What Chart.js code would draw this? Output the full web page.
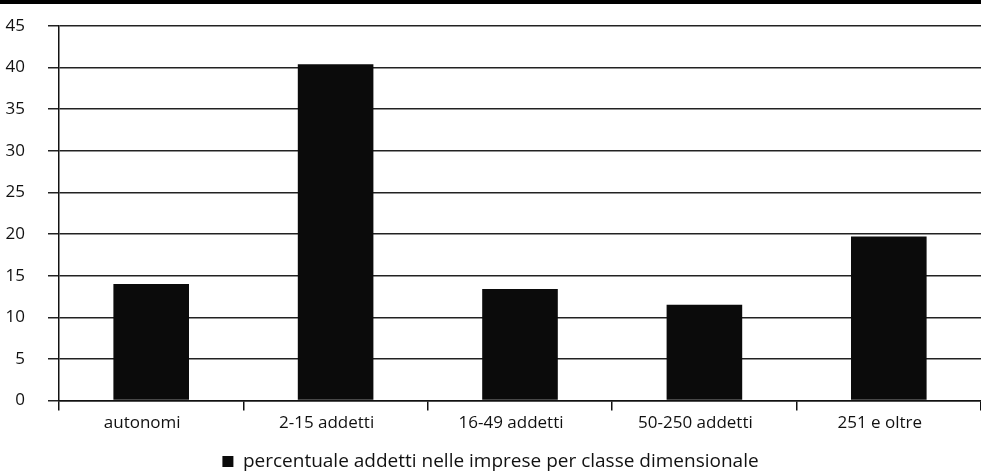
<!DOCTYPE html>
<html>
<head>
<meta charset="utf-8">
<script src="https://cdn.jsdelivr.net/npm/chart.js@4/dist/chart.umd.min.js"></script>
<style>
html,body{margin:0;padding:0;background:#fff;}
#wrap{position:relative;width:981px;height:475px;}
#band{position:absolute;left:0;top:0;width:981px;height:4px;background:#000;}
canvas{display:block;}
</style>
</head>
<body>
<div id="wrap">
<canvas id="c" width="981" height="475"></canvas>
<div id="band"></div>
</div>
<script>
const categories = ["autonomi", "2-15 addetti", "16-49 addetti", "50-250 addetti", "251 e oltre"];
const seriesLabel = "percentuale addetti nelle imprese per classe dimensionale";
const values = [14.0, 40.4, 13.4, 11.5, 19.7];
const yTicks = [0, 5, 10, 15, 20, 25, 30, 35, 40, 45];

const FONT = "'Open Sans', sans-serif";

new Chart(document.getElementById('c'), {
  type: 'bar',
  data: {
    labels: categories,
    datasets: [{
      label: seriesLabel,
      data: values,
      backgroundColor: '#0b0b0b',
      borderWidth: 0,
      categoryPercentage: 1.0,
      barPercentage: 0.41
    }]
  },
  options: {
    responsive: false,
    animation: false,
    devicePixelRatio: 1,
    layout: { padding: { left: 0, right: 0, top: 26, bottom: -6 } },
    plugins: {
      tooltip: { enabled: false },
      legend: {
        display: true,
        position: 'bottom',
        labels: {
          boxWidth: 11,
          boxHeight: 11,
          padding: 8,
          color: '#111',
          font: { family: FONT, size: 19 }
        }
      }
    },
    scales: {
      x: {
        offset: true,
        afterFit: (s) => { s.height += 9; },
        grid: {
          offset: true,
          drawOnChartArea: false,
          drawTicks: true,
          tickLength: 10,
          color: '#111',
          lineWidth: 1.5
        },
        border: { display: true, color: '#111', width: 1.5 },
        ticks: {
          color: '#111',
          padding: 2,
          labelOffset: -9,
          font: { family: FONT, size: 17 }
        }
      },
      y: {
        min: 0,
        max: 45,
        afterFit: (s) => { s.width = 59; s.paddingTop = 0; s.paddingBottom = 0; },
        afterBuildTicks: (s) => { s.ticks = yTicks.map(v => ({ value: v })); },
        grid: {
          drawOnChartArea: true,
          drawTicks: true,
          tickLength: 11,
          color: '#222',
          lineWidth: 1.5
        },
        border: { display: true, color: '#111', width: 1.5 },
        ticks: {
          color: '#111',
          padding: 23,
          font: { family: FONT, size: 17 }
        }
      }
    }
  }
});
</script>
</body>
</html>
